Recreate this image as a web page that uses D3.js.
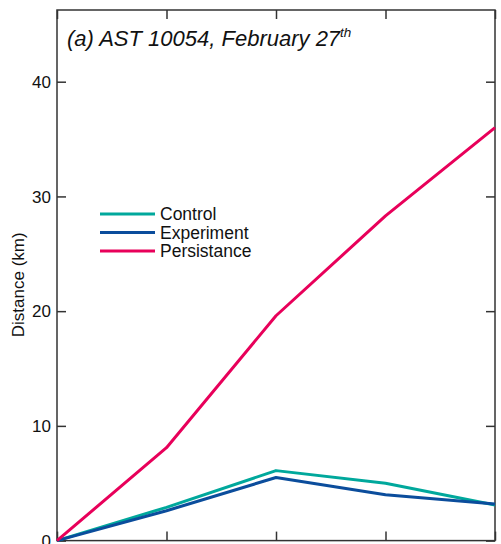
<!DOCTYPE html>
<html>
<head>
<meta charset="utf-8">
<script src="https://cdn.jsdelivr.net/npm/d3@7"></script>
<style>
  body { margin: 0; background: #fff; overflow: hidden; }
  text { font-family: "Liberation Sans", Arial, sans-serif; fill: #111; }
</style>
</head>
<body>
<div id="chart"></div>
<script>
var width = 501;
var height = 544;

// forecast steps and distances (km)
var steps = [0, 1, 2, 3, 4];
var control = [0, 2.9, 6.1, 5.0, 3.1];
var experiment = [0, 2.6, 5.5, 4.0, 3.2];
var persistance = [0, 8.1, 19.6, 28.3, 36.0];
var yTicks = [0, 10, 20, 30, 40];

var series = [
  { name: "Control", values: control, color: "#00a89c" },
  { name: "Experiment", values: experiment, color: "#0b4d9c" },
  { name: "Persistance", values: persistance, color: "#e8005a" }
];

// plot box (can't use "top" as a global name, it's window.top)
var pLeft = 57, pRight = 495, pTop = 10, pBottom = 540.6;

var x = d3.scaleLinear().domain([0, 4]).range([pLeft, pRight]);
var y = d3.scaleLinear().domain([0, 46.25]).range([pBottom, pTop]);

var svg = d3.select("#chart").append("svg")
  .attr("width", width)
  .attr("height", height);

// frame
svg.append("rect")
  .attr("x", pLeft).attr("y", pTop)
  .attr("width", pRight - pLeft).attr("height", pBottom - pTop)
  .attr("fill", "none")
  .attr("stroke", "#333")
  .attr("stroke-width", 1.5);

// inward ticks on all four sides
var tickLen = 9;
var yl = d3.axisRight(y).tickValues(yTicks).tickSize(tickLen).tickFormat("");
var yr = d3.axisLeft(y).tickValues(yTicks).tickSize(tickLen).tickFormat("");
var xb = d3.axisTop(x).tickValues(steps).tickSize(tickLen).tickFormat("");
var xt = d3.axisBottom(x).tickValues(steps).tickSize(tickLen).tickFormat("");

[[yl, "translate(" + pLeft + ",0)"], [yr, "translate(" + pRight + ",0)"],
 [xb, "translate(0," + pBottom + ")"], [xt, "translate(0," + pTop + ")"]].forEach(function (a) {
  var g = svg.append("g").attr("transform", a[1]).call(a[0]);
  g.select(".domain").remove();
  g.selectAll("line").attr("stroke", "#333").attr("stroke-width", 1.5);
});

// y tick labels
svg.append("g").selectAll("text")
  .data(yTicks)
  .enter().append("text")
    .attr("x", pLeft - 6)
    .attr("y", function (d) { return y(d); })
    .attr("dy", "0.36em")
    .attr("text-anchor", "end")
    .attr("font-size", 17)
    .text(function (d) { return d; });

// y axis title
svg.append("text")
  .attr("transform", "translate(18," + y(22.3) + ") rotate(-90)")
  .attr("text-anchor", "middle")
  .attr("dy", "0.35em")
  .attr("font-size", 17)
  .text("Distance (km)");

// panel title
var title = svg.append("text")
  .attr("x", 67).attr("y", 46)
  .attr("font-size", 22)
  .attr("font-style", "italic");
title.append("tspan").text("(a) AST 10054, February 27");
title.append("tspan").attr("font-size", 13.5).attr("dy", -9).text("th");

// lines
var line = d3.line()
  .x(function (d, i) { return x(steps[i]); })
  .y(function (d) { return y(d); });

svg.append("g").selectAll("path")
  .data(series)
  .enter().append("path")
    .attr("d", function (d) { return line(d.values); })
    .attr("fill", "none")
    .attr("stroke", function (d) { return d.color; })
    .attr("stroke-width", 3)
    .attr("stroke-linejoin", "round");

// legend
var legend = svg.append("g").selectAll("g")
  .data(series)
  .enter().append("g")
    .attr("transform", function (d, i) { return "translate(100," + (214 + i * 18.5) + ")"; });

legend.append("line")
  .attr("x1", 0).attr("x2", 55)
  .attr("stroke", function (d) { return d.color; })
  .attr("stroke-width", 3);

legend.append("text")
  .attr("x", 60)
  .attr("dy", "0.36em")
  .attr("font-size", 17.5)
  .text(function (d) { return d.name; });
</script>
</body>
</html>
